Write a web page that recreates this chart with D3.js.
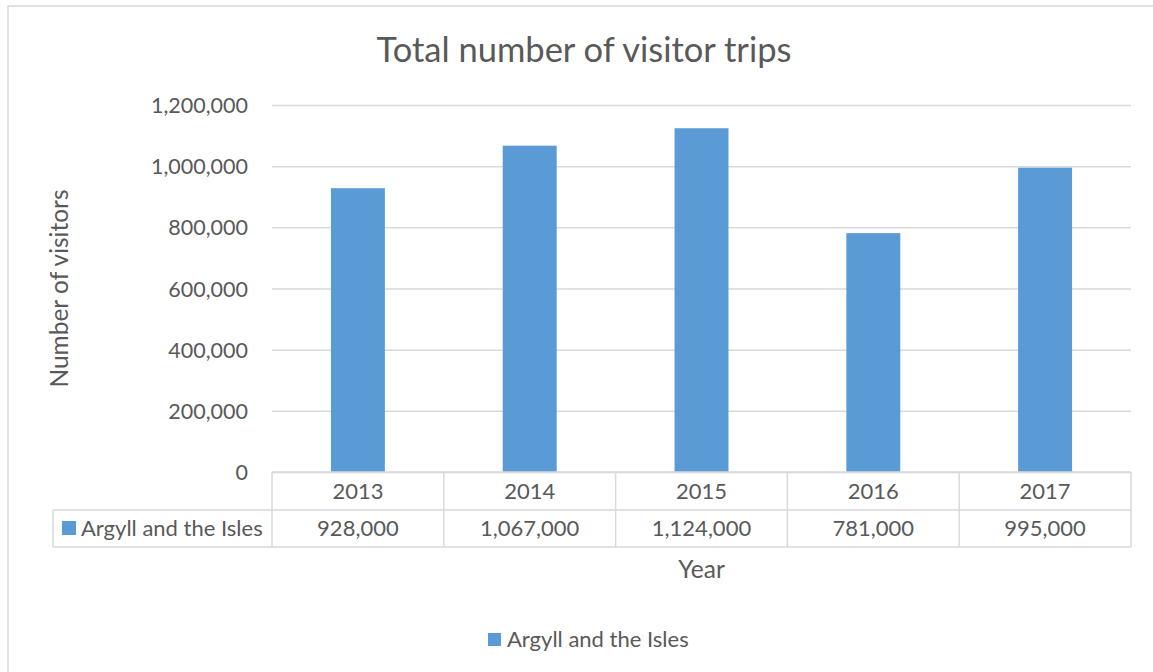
<!DOCTYPE html>
<html>
<head>
<meta charset="utf-8">
<script src="https://cdnjs.cloudflare.com/ajax/libs/d3/7.8.5/d3.min.js"></script>
<style>
  body { margin: 0; background: #fff; }
  svg text { font-family: Lato, "Open Sans", sans-serif; fill: #595959; }
</style>
</head>
<body>
<svg id="chart" width="1153" height="672"></svg>
<script>
// data
var years = ["2013", "2014", "2015", "2016", "2017"];
var visitors = [928000, 1067000, 1124000, 781000, 995000];
var yTicks = [0, 200000, 400000, 600000, 800000, 1000000, 1200000];
var seriesName = "Argyll and the Isles";

var barColor = "#5b9bd5";
var lineColor = "#d9d9d9";
var svg = d3.select("#chart");

// chart border
svg.append("rect")
    .attr("x", 8).attr("y", 6)
    .attr("width", 1170).attr("height", 700)
    .attr("fill", "none")
    .attr("stroke", lineColor)
    .attr("stroke-width", 1.5);

var plot = { left: 272, right: 1131, top: 105, bottom: 472 };
var tableRow = 38;

var x = d3.scaleBand()
    .domain(years)
    .range([plot.left, plot.right])
    .padding(0);

var y = d3.scaleLinear()
    .domain([0, 1200000])
    .range([plot.bottom, plot.top]);

// title
svg.append("text")
    .attr("x", 584).attr("y", 62)
    .attr("text-anchor", "middle")
    .style("font-size", "34.5px")
    .text("Total number of visitor trips");

// y axis with gridlines
var yAxis = svg.append("g")
    .attr("transform", "translate(" + plot.left + ",0)")
    .call(d3.axisLeft(y)
        .tickValues(yTicks)
        .tickSize(-(plot.right - plot.left))
        .tickPadding(24)
        .tickFormat(d3.format(",")));

yAxis.select(".domain").remove();
yAxis.selectAll(".tick line")
    .attr("stroke", lineColor)
    .attr("stroke-width", 1.5);
yAxis.selectAll(".tick text")
    .style("font-size", "21.5px")
    .attr("dy", "0.35em");

svg.append("text")
    .attr("transform", "translate(68," + ((plot.top + plot.bottom) / 2) + ") rotate(-90)")
    .attr("text-anchor", "middle")
    .style("font-size", "24.5px")
    .text("Number of visitors");

// bars
var barW = x.bandwidth() * 0.314;
svg.selectAll(".bar")
    .data(years)
    .enter().append("rect")
    .attr("class", "bar")
    .attr("x", function (d) { return x(d) + (x.bandwidth() - barW) / 2; })
    .attr("y", function (d, i) { return y(visitors[i]); })
    .attr("width", barW)
    .attr("height", function (d, i) { return y(0) - y(visitors[i]); })
    .attr("fill", barColor);

// data table
var tbl = svg.append("g");
var keyLeft = 53;
var r1 = plot.bottom, r2 = plot.bottom + tableRow, r3 = plot.bottom + 2 * tableRow - 1;

function hline(x1, x2, yy) {
    tbl.append("line")
        .attr("x1", x1).attr("x2", x2).attr("y1", yy).attr("y2", yy)
        .attr("stroke", lineColor).attr("stroke-width", 1.5);
}
function vline(xx, y1, y2) {
    tbl.append("line")
        .attr("x1", xx).attr("x2", xx).attr("y1", y1).attr("y2", y2)
        .attr("stroke", lineColor).attr("stroke-width", 1.5);
}

hline(plot.left, plot.right, r1);
hline(keyLeft, plot.right, r2);
hline(keyLeft, plot.right, r3);
vline(keyLeft, r2, r3);
vline(plot.left, r1, r3);
years.forEach(function (d) { vline(x(d) + x.bandwidth(), r1, r3); });

tbl.selectAll(".yr")
    .data(years)
    .enter().append("text")
    .attr("x", function (d) { return x(d) + x.bandwidth() / 2; })
    .attr("y", r1 + 27)
    .attr("text-anchor", "middle")
    .style("font-size", "22px")
    .text(function (d) { return d; });

tbl.selectAll(".val")
    .data(visitors)
    .enter().append("text")
    .attr("x", function (d, i) { return x(years[i]) + x.bandwidth() / 2; })
    .attr("y", r2 + 26)
    .attr("text-anchor", "middle")
    .style("font-size", "22px")
    .text(function (d) { return d3.format(",")(d); });

tbl.append("rect")
    .attr("x", 62).attr("y", r2 + 11)
    .attr("width", 14).attr("height", 14)
    .attr("fill", barColor);
tbl.append("text")
    .attr("x", 81).attr("y", r2 + 26)
    .style("font-size", "22px")
    .text(seriesName);

// x axis title
svg.append("text")
    .attr("x", (plot.left + plot.right) / 2).attr("y", 578)
    .attr("text-anchor", "middle")
    .style("font-size", "24.5px")
    .text("Year");

// legend
var legend = svg.append("g").attr("transform", "translate(488,633)");
legend.append("rect")
    .attr("width", 13).attr("height", 13)
    .attr("fill", barColor);
legend.append("text")
    .attr("x", 19).attr("y", 14)
    .style("font-size", "22px")
    .text(seriesName);
</script>
</body>
</html>
